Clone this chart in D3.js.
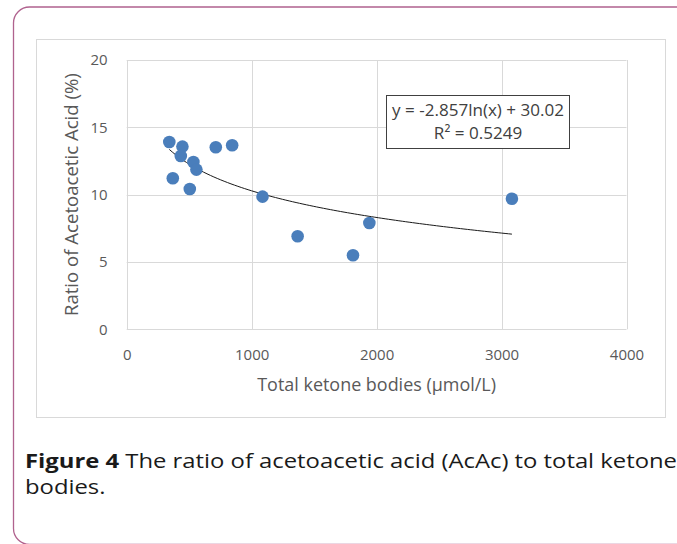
<!DOCTYPE html>
<html>
<head>
<meta charset="utf-8">
<script src="https://cdn.jsdelivr.net/npm/d3@7"></script>
<style>
  html, body { margin: 0; padding: 0; background: #fff; overflow: hidden; }
  svg { display: block; }
  text { font-family: "Open Sans", "Noto Sans", sans-serif; }
</style>
</head>
<body>
<div id="chart"></div>
<script>
// data
var tkb = [341, 446, 433, 369, 505, 534, 558, 713, 844, 1087, 1368, 1811, 1942, 3083];
var ratio = [13.91, 13.57, 12.87, 11.22, 10.42, 12.43, 11.86, 13.52, 13.67, 9.85, 6.91, 5.50, 7.90, 9.70];
var xTicks = [0, 1000, 2000, 3000, 4000];
var yTicks = [0, 5, 10, 15, 20];
var fitA = -2.857, fitB = 30.02;
var eqLines = ["y = -2.857ln(x) + 30.02", "R² = 0.5249"];
var captionBold = "Figure 4";
var captionRest = [" The ratio of acetoacetic acid (AcAc) to total ketone", "bodies."];

var W = 677, H = 544;
var plot = {left: 126.7, right: 626.5, top: 60, bottom: 329.3};

var svg = d3.select("#chart").append("svg")
    .attr("width", W)
    .attr("height", H);

// scale a text's font so it spans the given width
function fitWidth(sel, width) {
  var fs = parseFloat(sel.style("font-size"));
  var w = sel.node().getComputedTextLength();
  sel.style("font-size", (fs * width / w) + "px");
}

// outer rounded frame
svg.append("rect")
    .attr("x", 13.5).attr("y", 7)
    .attr("width", 700).attr("height", 537.5)
    .attr("rx", 16).attr("ry", 16)
    .attr("fill", "none")
    .attr("stroke", "#b0628e")
    .attr("stroke-width", 1.3);

// chart area border
svg.append("rect")
    .attr("x", 36.5).attr("y", 39.5)
    .attr("width", 629).attr("height", 378)
    .attr("fill", "#fff")
    .attr("stroke", "#d9d9d9");

var x = d3.scaleLinear().domain([0, 4000]).range([plot.left, plot.right]);
var y = d3.scaleLinear().domain([0, 20]).range([plot.bottom, plot.top]);

// gridlines
var grid = svg.append("g");
grid.selectAll("line.h")
    .data(yTicks)
    .enter().append("line")
    .attr("class", "h")
    .attr("x1", plot.left).attr("x2", plot.right)
    .attr("y1", function(d) { return Math.round(y(d)) + 0.5; })
    .attr("y2", function(d) { return Math.round(y(d)) + 0.5; })
    .attr("stroke", "#d9d9d9");
grid.selectAll("line.v")
    .data(xTicks)
    .enter().append("line")
    .attr("class", "v")
    .attr("y1", plot.top).attr("y2", plot.bottom)
    .attr("x1", function(d) { return Math.round(x(d)) + 0.5; })
    .attr("x2", function(d) { return Math.round(x(d)) + 0.5; })
    .attr("stroke", "#d9d9d9");

// axes (labels only, lines come from the grid)
var xAxis = svg.append("g")
    .attr("transform", "translate(0," + (plot.bottom + 20) + ")")
    .call(d3.axisBottom(x).tickValues(xTicks).tickFormat(d3.format("d")).tickSize(0).tickPadding(0));
var yAxis = svg.append("g")
    .attr("transform", "translate(" + (plot.left - 19) + ",0)")
    .call(d3.axisLeft(y).tickValues(yTicks).tickSize(0).tickPadding(0));
[xAxis, yAxis].forEach(function(a) {
  a.select(".domain").remove();
  a.selectAll("text")
    .style("font-family", "'Open Sans', 'Noto Sans', sans-serif")
    .style("font-size", "15px")
    .attr("fill", "#595959");
});

// axis titles
var xt = svg.append("text")
    .attr("x", (plot.left + plot.right) / 2)
    .attr("y", 391)
    .attr("text-anchor", "middle")
    .attr("fill", "#595959")
    .style("font-size", "15px")
    .text("Total ketone bodies (µmol/L)");
fitWidth(xt, 239);
var yt = svg.append("text")
    .attr("transform", "translate(78," + ((plot.top + plot.bottom) / 2) + ") rotate(-90)")
    .attr("text-anchor", "middle")
    .attr("fill", "#595959")
    .style("font-size", "15px")
    .text("Ratio of Acetoacetic Acid (%)");
fitWidth(yt, 243);

// logarithmic trendline
var xmin = d3.min(tkb), xmax = d3.max(tkb);
var fitPts = d3.range(0, 101).map(function(i) {
  var xv = xmin + (xmax - xmin) * i / 100;
  return [xv, fitA * Math.log(xv) + fitB];
});
svg.append("path")
    .datum(fitPts)
    .attr("fill", "none")
    .attr("stroke", "#1a1a1a")
    .attr("stroke-width", 1)
    .attr("d", d3.line()
        .x(function(d) { return x(d[0]); })
        .y(function(d) { return y(d[1]); }));

// points
svg.append("g").selectAll("circle")
    .data(tkb)
    .enter().append("circle")
    .attr("cx", function(d) { return x(d); })
    .attr("cy", function(d, i) { return y(ratio[i]); })
    .attr("r", 6.3)
    .attr("fill", "#4a7ebb");

// equation label
svg.append("rect")
    .attr("x", 386.5).attr("y", 95.5)
    .attr("width", 183).attr("height", 53)
    .attr("fill", "#fff")
    .attr("stroke", "#404040");
var eq = svg.append("g").selectAll("text")
    .data(eqLines)
    .enter().append("text")
    .attr("x", 478)
    .attr("y", function(d, i) { return 116 + i * 22.5; })
    .attr("text-anchor", "middle")
    .attr("fill", "#404040")
    .style("font-size", "15px")
    .text(function(d) { return d; });
var eqFs = 15 * 172 / eq.nodes()[0].getComputedTextLength();
eq.style("font-size", eqFs + "px");

// caption (stretched a little so it runs to the right edge like the original)
var capFs = 19.5;
var cap = svg.append("text")
    .attr("x", 25)
    .attr("y", 468)
    .attr("fill", "#1a1a1a")
    .style("font-size", capFs + "px");
cap.append("tspan").style("font-weight", "bold").text(captionBold);
cap.append("tspan").text(captionRest[0]);
var stretch = 652 / cap.node().getComputedTextLength();
cap.attr("textLength", 652).attr("lengthAdjust", "spacingAndGlyphs");
var cap2 = svg.append("text")
    .attr("x", 25)
    .attr("y", 494)
    .attr("fill", "#1a1a1a")
    .style("font-size", capFs + "px")
    .text(captionRest[1]);
cap2.attr("textLength", cap2.node().getComputedTextLength() * stretch)
    .attr("lengthAdjust", "spacingAndGlyphs");
</script>
</body>
</html>
